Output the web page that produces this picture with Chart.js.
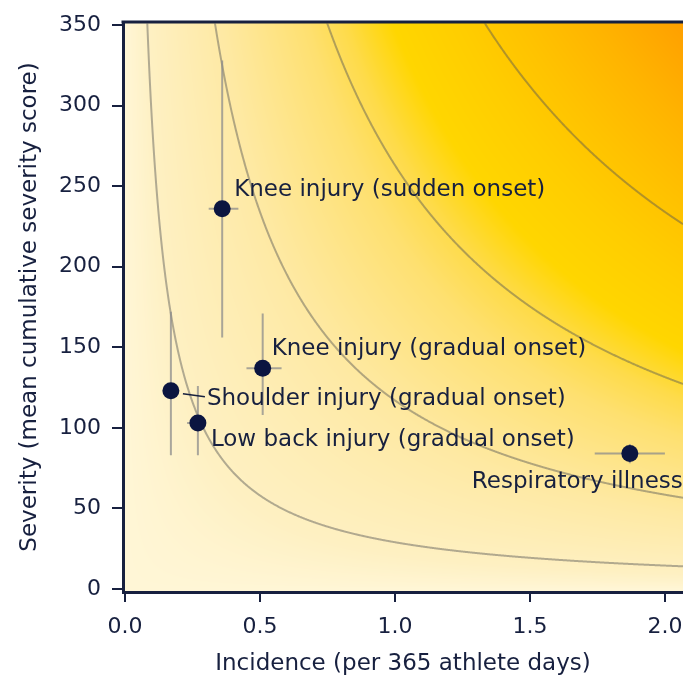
<!DOCTYPE html>
<html>
<head>
<meta charset="utf-8">
<script src="https://cdn.jsdelivr.net/npm/chart.js@4.4.1/dist/chart.umd.min.js"></script>
<style>
  html, body { margin: 0; padding: 0; background: #ffffff; }
  #wrap { width: 683px; height: 680px; }
</style>
</head>
<body>
<div id="wrap"><canvas id="c" width="683" height="680"></canvas></div>
<script>
// Conditions: incidence (per 365 athlete days) vs mean cumulative severity score
const categories = [
  'Knee injury (sudden onset)',
  'Knee injury (gradual onset)',
  'Shoulder injury (gradual onset)',
  'Low back injury (gradual onset)',
  'Respiratory illness'
];
const incidence = [0.36, 0.51, 0.17, 0.27, 1.87];
const severity  = [236, 137, 123, 103, 84];
const incidenceLow  = [0.31, 0.45, 0.15, 0.23, 1.74];
const incidenceHigh = [0.42, 0.58, 0.19, 0.30, 2.00];
const severityLow   = [156, 108, 83, 83, 78];
const severityHigh  = [328, 171, 172, 126, 90];

const xTicks = [0.0, 0.5, 1.0, 1.5, 2.0];
const yTicks = [0, 50, 100, 150, 200, 250, 300, 350];

// Iso-burden lines (incidence × severity)
const burdenLevels = [29, 117, 263, 468];
// Colour ramp for the shaded burden surface
const rampStops  = [0, 30, 117, 217, 263, 320, 400, 468, 560, 665, 800];
const rampColors = ['#FFF6D6', '#FEF0C2', '#FEE9A3', '#FEE070', '#FEDB4A', '#FFD600',
                    '#FFCD00', '#FFC300', '#FFB400', '#FFA000', '#FF9600'];
// shading weights incidence slightly more than severity
const SEVERITY_EXP = 0.85;
const SEVERITY_REF = 200;

const NAVY = '#17203F';
const FONT = '"DejaVu Sans", Verdana, sans-serif';
const TEXT_SIZE = 23;
const TICK_SIZE = 22;

// Label placement relative to each point, in pixels
const labelOffsets = [
  { dx: 12, dy: -19 },
  { dx: 9, dy: -19 },
  { dx: 36, dy: 8, leader: true },
  { dx: 13, dy: 17 },
  { dx: -158, dy: 28 }
];

function hexToRgb(h) {
  return [parseInt(h.slice(1, 3), 16), parseInt(h.slice(3, 5), 16), parseInt(h.slice(5, 7), 16)];
}
const rampRgb = rampColors.map(hexToRgb);

function rampColor(p) {
  if (p <= rampStops[0]) return rampRgb[0];
  for (let k = 1; k < rampStops.length; k++) {
    if (p <= rampStops[k]) {
      const t = (p - rampStops[k - 1]) / (rampStops[k] - rampStops[k - 1]);
      const a = rampRgb[k - 1], b = rampRgb[k];
      return [a[0] + (b[0] - a[0]) * t, a[1] + (b[1] - a[1]) * t, a[2] + (b[2] - a[2]) * t];
    }
  }
  return rampRgb[rampRgb.length - 1];
}

function shadeValue(inc, sev) {
  return inc * Math.pow(sev, SEVERITY_EXP) * Math.pow(SEVERITY_REF, 1 - SEVERITY_EXP);
}

const burdenPlugin = {
  id: 'burdenSurface',
  // shaded burden surface, painted beneath the axes
  beforeDraw(chart) {
    const { ctx, chartArea: a, scales: { x, y } } = chart;
    const left = Math.round(a.left), top = Math.round(a.top);
    const w = Math.round(a.right) - left, h = Math.round(a.bottom) - top;
    const img = ctx.createImageData(w, h);
    const xs = new Float64Array(w);
    for (let i = 0; i < w; i++) xs[i] = Math.max(0, x.getValueForPixel(left + i + 0.5));
    for (let j = 0; j < h; j++) {
      const yv = Math.max(0, y.getValueForPixel(top + j + 0.5));
      for (let i = 0; i < w; i++) {
        const c = rampColor(shadeValue(xs[i], yv));
        const o = (j * w + i) * 4;
        img.data[o] = c[0]; img.data[o + 1] = c[1]; img.data[o + 2] = c[2]; img.data[o + 3] = 255;
      }
    }
    ctx.putImageData(img, left, top);
  },
  beforeDatasetsDraw(chart) {
    const { ctx, chartArea: a, scales: { x, y } } = chart;
    ctx.save();
    ctx.beginPath();
    ctx.rect(a.left + 1.5, a.top + 1.5, a.right - a.left - 1.5, a.bottom - a.top - 3);
    ctx.clip();

    // iso-burden curves
    ctx.strokeStyle = 'rgba(85, 85, 85, 0.45)';
    ctx.lineWidth = 2;
    burdenLevels.forEach(level => {
      ctx.beginPath();
      let started = false;
      for (let px = a.left; px <= a.right; px += 0.5) {
        const xv = x.getValueForPixel(px);
        if (xv <= 0) continue;
        const yv = Math.min(level / xv, 5000);
        const py = y.getPixelForValue(yv);
        if (!started) { ctx.moveTo(px, py); started = true; } else ctx.lineTo(px, py);
      }
      ctx.stroke();
    });

    // error bars
    ctx.strokeStyle = 'rgba(140, 140, 140, 0.75)';
    ctx.lineWidth = 2;
    incidence.forEach((v, i) => {
      const cx = x.getPixelForValue(v), cy = y.getPixelForValue(severity[i]);
      ctx.beginPath();
      ctx.moveTo(x.getPixelForValue(incidenceLow[i]), cy);
      ctx.lineTo(x.getPixelForValue(incidenceHigh[i]), cy);
      ctx.moveTo(cx, y.getPixelForValue(severityLow[i]));
      ctx.lineTo(cx, y.getPixelForValue(severityHigh[i]));
      ctx.stroke();
    });
    ctx.restore();

    // top frame line
    ctx.save();
    ctx.strokeStyle = NAVY;
    ctx.lineWidth = 3;
    ctx.beginPath();
    ctx.moveTo(a.left - 1.5, a.top);
    ctx.lineTo(a.right, a.top);
    ctx.stroke();
    ctx.restore();
  },
  afterDatasetsDraw(chart) {
    const { ctx, scales: { x, y } } = chart;
    ctx.save();
    ctx.font = TEXT_SIZE + 'px ' + FONT;
    ctx.fillStyle = NAVY;
    ctx.textAlign = 'left';
    ctx.textBaseline = 'middle';
    categories.forEach((name, i) => {
      const cx = x.getPixelForValue(incidence[i]), cy = y.getPixelForValue(severity[i]);
      const off = labelOffsets[i];
      ctx.fillText(name, cx + off.dx, cy + off.dy);
      if (off.leader) {
        ctx.strokeStyle = NAVY;
        ctx.lineWidth = 1.5;
        ctx.beginPath();
        ctx.moveTo(cx + 12, cy + 3);
        ctx.lineTo(cx + off.dx - 2, cy + 6);
        ctx.stroke();
      }
    });
    ctx.restore();
  }
};

new Chart(document.getElementById('c'), {
  type: 'scatter',
  data: {
    datasets: [{
      data: incidence.map((v, i) => ({ x: v, y: severity[i] })),
      pointRadius: 8.5,
      pointHoverRadius: 8.5,
      backgroundColor: '#0B1540',
      borderWidth: 0,
      clip: false
    }]
  },
  options: {
    responsive: false,
    animation: false,
    devicePixelRatio: 1,
    layout: { autoPadding: false, padding: { top: 22, right: 0, left: 0, bottom: 0 } },
    plugins: { legend: { display: false }, tooltip: { enabled: false } },
    scales: {
      x: {
        type: 'linear',
        min: -0.0074,
        max: 2.067,
        afterBuildTicks: s => { s.ticks = xTicks.map(v => ({ value: v })); },
        afterFit: s => { s.height = 88; s.paddingLeft = 0; s.paddingRight = 0; },
        border: { display: true, color: NAVY, width: 3 },
        grid: { drawOnChartArea: false, drawTicks: true, tickLength: 10, color: NAVY, lineWidth: 2 },
        ticks: {
          color: NAVY, font: { family: FONT, size: TICK_SIZE }, padding: 12,
          autoSkip: false, maxRotation: 0,
          callback: v => Number(v).toFixed(1)
        },
        title: {
          display: true, text: 'Incidence (per 365 athlete days)', color: NAVY,
          font: { family: FONT, size: TEXT_SIZE }, padding: { top: 6, bottom: 2 }
        }
      },
      y: {
        type: 'linear',
        min: -1.9,
        max: 351.9,
        afterBuildTicks: s => { s.ticks = yTicks.map(v => ({ value: v })); },
        afterFit: s => { s.width = 123; s.paddingTop = 0; s.paddingBottom = 0; },
        border: { display: true, color: NAVY, width: 3 },
        grid: { drawOnChartArea: false, drawTicks: true, tickLength: 11, color: NAVY, lineWidth: 2 },
        ticks: {
          color: NAVY, font: { family: FONT, size: TICK_SIZE }, padding: 11,
          autoSkip: false,
          callback: v => String(v)
        },
        title: {
          display: true, text: 'Severity (mean cumulative severity score)', color: NAVY,
          font: { family: FONT, size: TEXT_SIZE }, padding: { top: 16, bottom: 0 }
        }
      }
    }
  },
  plugins: [burdenPlugin]
});
</script>
</body>
</html>
